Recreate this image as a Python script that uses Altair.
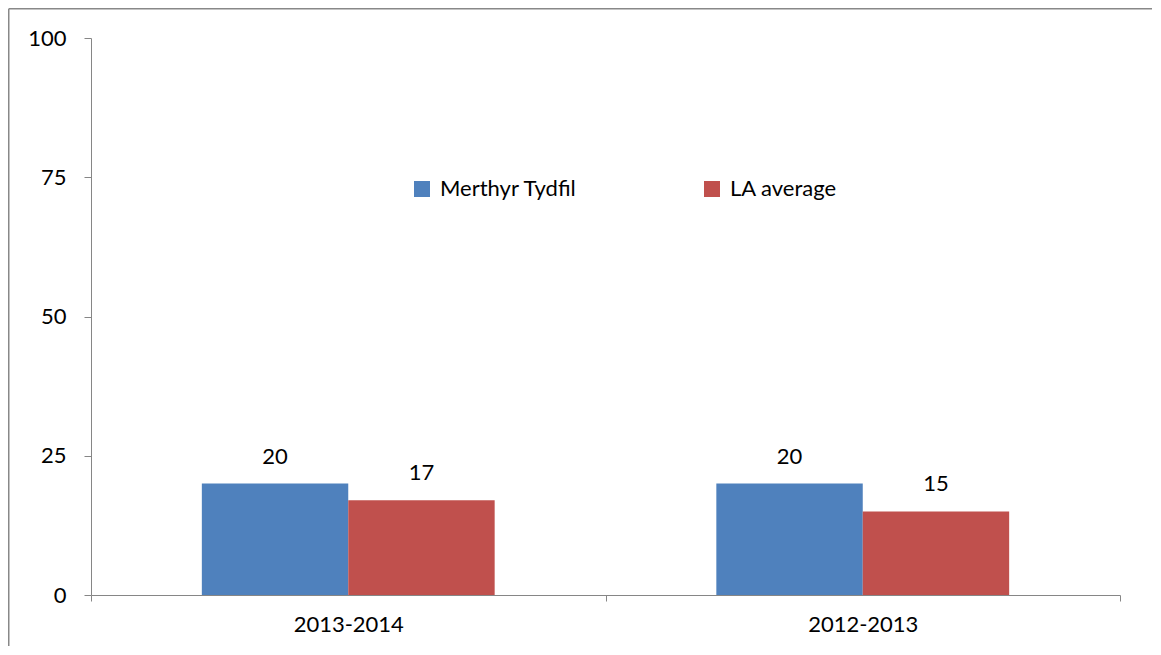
import altair as alt
import pandas as pd

years = ["2013-2014", "2012-2013"]
series = ["Merthyr Tydfil", "LA average"]
merthyr = [20, 20]
la_avg = [17, 15]
colors = ["#4F81BD", "#C0504D"]

rows = []
for i, y in enumerate(years):
    rows.append({"year": y, "series": series[0], "value": merthyr[i]})
    rows.append({"year": y, "series": series[1], "value": la_avg[i]})
df = pd.DataFrame(rows)

FONT = "Lato"
FS = 22
W, H = 1029, 557
PL, PT, PR, PB = 83, 30, 32, 51

x = alt.X("year:N", sort=years, title=None,
          scale=alt.Scale(paddingInner=0, paddingOuter=0),
          axis=alt.Axis(tickBand="extent", labelAngle=0, grid=False, domainColor="#868686",
                        tickColor="#868686", tickSize=6, labelPadding=13,
                        labelFont=FONT, labelFontSize=FS, labelColor="#000000"))
xoff = alt.XOffset("series:N", sort=series,
                   scale=alt.Scale(paddingInner=0, paddingOuter=0.757))
y = alt.Y("value:Q", title=None,
          scale=alt.Scale(domain=[0, 100]),
          axis=alt.Axis(values=[0, 25, 50, 75, 100], grid=False, domainColor="#868686",
                        tickColor="#868686", tickSize=7, labelPadding=18,
                        labelFont=FONT, labelFontSize=FS, labelColor="#000000"))
color = alt.Color("series:N", sort=series,
                  scale=alt.Scale(domain=series, range=colors),
                  legend=alt.Legend(title=None, orient="none", direction="horizontal",
                                    legendX=320, legendY=140, symbolType="square",
                                    symbolSize=256, symbolStrokeWidth=0, symbolOpacity=1,
                                    columnPadding=124, labelOffset=7,
                                    labelFont=FONT, labelFontSize=FS, labelColor="#000000"))

bars = alt.Chart(df).mark_bar(opacity=1).encode(x=x, xOffset=xoff, y=y, color=color)
labels = alt.Chart(df).mark_text(font=FONT, fontSize=FS, color="#000000",
                                 baseline="middle", dy=-27).encode(
    x=x, xOffset=xoff, y=y, text="value:Q")

frame = pd.DataFrame({"a": [0]})
border_top = alt.Chart(frame).mark_rule(stroke="#888888", strokeWidth=1.5, clip=False).encode(
    x=alt.value(-PL + 0.75), x2=alt.value(W + PR), y=alt.value(-PT + 0.75))
border_left = alt.Chart(frame).mark_rule(stroke="#888888", strokeWidth=1.5, clip=False).encode(
    x=alt.value(-PL + 0.75), y=alt.value(-PT + 0.75), y2=alt.value(H + PB))

chart = alt.layer(border_top, border_left, bars, labels).properties(
    width=W, height=H,
    background="#ffffff",
    autosize=alt.AutoSizeParams(type="none"),
    padding={"left": PL, "top": PT, "right": PR, "bottom": PB},
).configure_view(stroke="transparent", strokeWidth=0)

chart.save("out.html", embed_options={"renderer": "svg", "actions": False})
